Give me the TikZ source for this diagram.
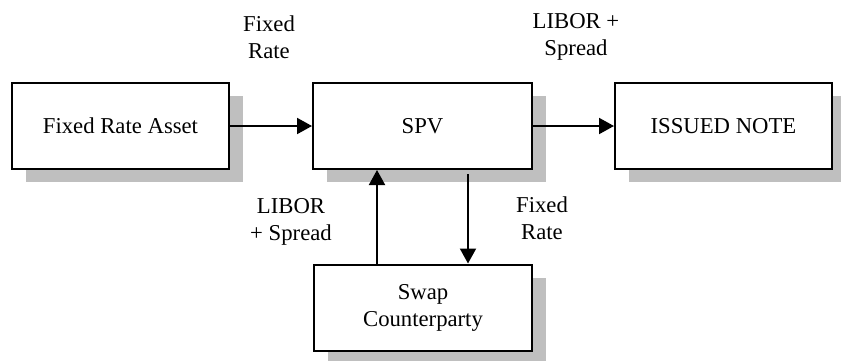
\documentclass[tikz,border=0pt]{standalone}
\usepackage{fontspec}
\setmainfont{Liberation Serif}
\usetikzlibrary{arrows.meta,shadows}
\begin{document}
\begin{tikzpicture}[x=0.5pt,y=-0.5pt,
  every node/.style={font=\fontsize{11.35}{13.5}\selectfont},
  box/.style={draw=black,line width=1pt,fill=white,minimum width=#1,
    minimum height=43pt,inner sep=0pt,align=center,
    drop shadow={shadow xshift=7pt,shadow yshift=-6.5pt,fill=black!25,opacity=1}},
  lbl/.style={inner sep=0pt,align=center},
  arr/.style={line width=1pt,-{Triangle[length=7.5pt,width=8pt]}}]
  % canvas
  \fill[white] (0,0) rectangle (841,360);
  \useasboundingbox (0,0) rectangle (841,360);
  % boxes
  \node[box=108.5pt] (asset) at (120.5,126) {Fixed Rate Asset};
  \node[box=109.5pt] (spv) at (422.5,126) {SPV};
  \node[box=108.5pt] (note) at (723.5,126) {ISSUED NOTE};
  \node[box=109pt] (swap) at (423,307.5) {Swap\\Counterparty};
  % flows
  \draw[arr] (asset) -- (spv);
  \draw[arr] (spv) -- (note);
  \coordinate (upx) at (377,0);
  \coordinate (dnx) at (468,0);
  \draw[arr] (swap.north -| upx) -- (spv.south -| upx);
  \draw[arr] ([yshift=-2pt]spv.south -| dnx) -- (swap.north -| dnx);
  % flow labels
  \node[lbl] (l1) at (269,37.5) {Fixed\\Rate};
  \node[lbl] (l2) at (576,37) {LIBOR +\\Spread};
  \node[lbl] (l3) at (291,221.5) {LIBOR\\+ Spread};
  \node[lbl] (l4) at (542,218.5) {Fixed\\Rate};
\end{tikzpicture}
\end{document}
